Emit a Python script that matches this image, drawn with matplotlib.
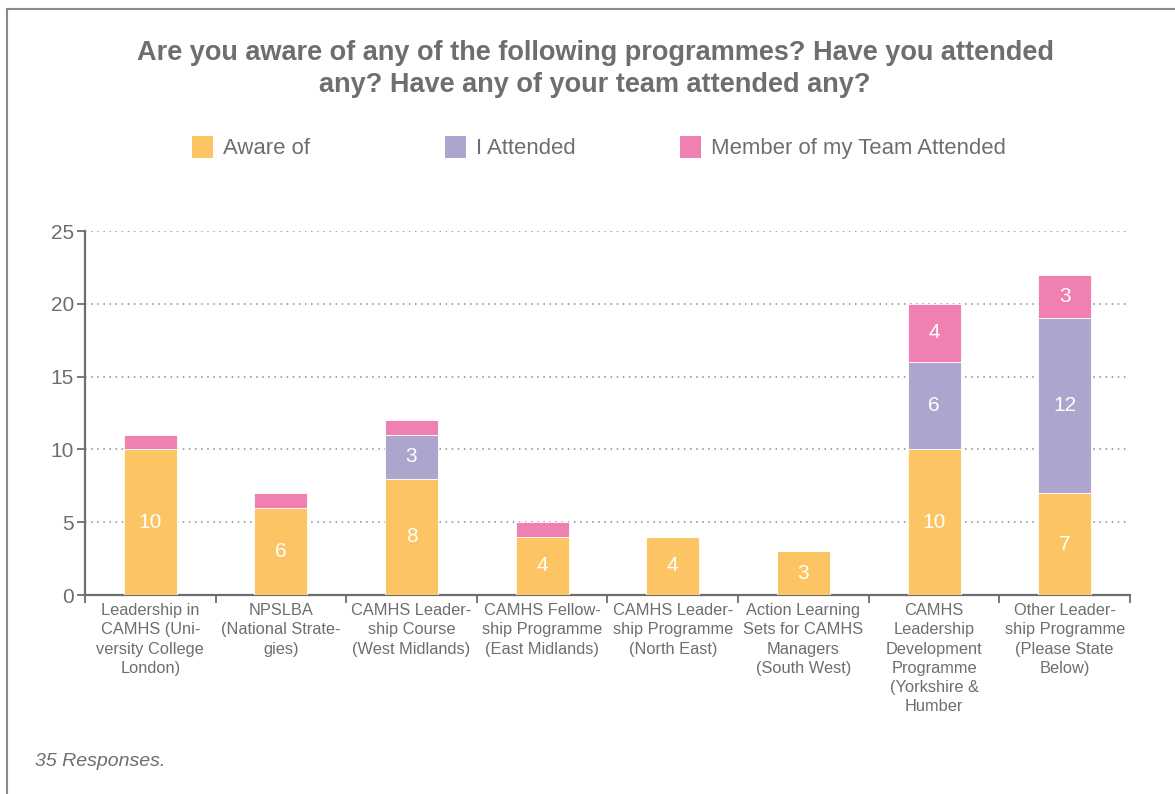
import numpy as np
import matplotlib.pyplot as plt
from matplotlib.lines import Line2D
from matplotlib.patches import Rectangle

# categories (x tick labels, already hyphen-wrapped as in the source)
categories = [
    "Leadership in\nCAMHS (Uni-\nversity College\nLondon)",
    "NPSLBA\n(National Strate-\ngies)",
    "CAMHS Leader-\nship Course\n(West Midlands)",
    "CAMHS Fellow-\nship Programme\n(East Midlands)",
    "CAMHS Leader-\nship Programme\n(North East)",
    "Action Learning\nSets for CAMHS\nManagers\n(South West)",
    "CAMHS\nLeadership\nDevelopment\nProgramme\n(Yorkshire &\nHumber",
    "Other Leader-\nship Programme\n(Please State\nBelow)",
]
aware_of = [10, 6, 8, 4, 4, 3, 10, 7]
i_attended = [0, 0, 3, 0, 0, 0, 6, 12]
team_attended = [1, 1, 1, 1, 0, 0, 4, 3]

series_names = ["Aware of", "I Attended", "Member of my Team Attended"]
colors = ["#FDC463", "#ADA5CE", "#F080B1"]
y_ticks = [0, 5, 10, 15, 20, 25]

GRAY = "#6D6E71"
plt.rcParams['font.family'] = ['Liberation Sans', 'DejaVu Sans']

fig = plt.figure(figsize=(11.75, 7.94), dpi=100)
ax = fig.add_axes([0.0723, 0.2506, 0.8894, 0.4584])

x = np.arange(len(categories))
bottom = np.zeros(len(categories))
for vals, color in zip([aware_of, i_attended, team_attended], colors):
    vals = np.array(vals, dtype=float)
    bars = ax.bar(x, vals, width=0.405, bottom=bottom, color=color,
                  edgecolor="white", linewidth=0.6, zorder=3)
    for rect, v, b in zip(bars, vals, bottom):
        if v > 1:
            ax.text(rect.get_x() + rect.get_width() / 2, b + v / 2,
                    "%d" % v, ha="center", va="center", color="white",
                    fontsize=15, zorder=4)
    bottom += vals

ax.set_xlim(-0.5, len(categories) - 0.5)
ax.set_ylim(0, 25)
ax.set_yticks(y_ticks)
ax.set_yticklabels([str(t) for t in y_ticks], fontsize=15, color=GRAY)
ax.yaxis.grid(True, linestyle=(0, (1, 3)), color="#8a8a8a", linewidth=1.1, zorder=0)
ax.tick_params(axis="y", length=6, width=1.3, color=GRAY, pad=2)

# category labels centred, ticks at boundaries
ax.set_xticks(np.arange(-0.5, len(categories), 1.0))
ax.set_xticklabels([])
ax.set_xticks(x, minor=True)
ax.set_xticklabels(categories, minor=True, fontsize=11.8, color=GRAY,
                   linespacing=1.34, va="top")
ax.tick_params(axis="x", which="minor", length=0, pad=6)
ax.tick_params(axis="x", which="major", length=6, width=1.3, color=GRAY)

for side in ["top", "right"]:
    ax.spines[side].set_visible(False)
for side in ["left", "bottom"]:
    ax.spines[side].set_color(GRAY)
    ax.spines[side].set_linewidth(1.6)

# title
fig.text(0.5065, 1 - 69 / 794, "Are you aware of any of the following programmes? Have you attended\nany? Have any of your team attended any?",
         ha="center", va="center", fontsize=19.5, fontweight="bold", color=GRAY,
         linespacing=1.3)

# legend
leg_x = [192, 445, 680]
leg_y = 147
for name, color, lx in zip(series_names, colors, leg_x):
    fig.patches.append(Rectangle(((lx) / 1175, 1 - (leg_y + 10.5) / 794),
                                 21 / 1175, 21 / 794, transform=fig.transFigure,
                                 facecolor=color, edgecolor="none"))
    fig.text((lx + 31) / 1175, 1 - (leg_y + 1.5) / 794, name, ha="left", va="center",
             fontsize=15.9, color=GRAY)

# footnote
fig.text(35 / 1175, 1 - 761 / 794, "35 Responses.", ha="left", va="center",
         fontsize=14, style="italic", color=GRAY)

# frame lines (top and left)
fig.add_artist(Line2D([7 / 1175, 1.0], [1 - 9 / 794, 1 - 9 / 794],
                      transform=fig.transFigure, color="#8a8a8a", linewidth=1.5))
fig.add_artist(Line2D([7 / 1175, 7 / 1175], [0, 1 - 9 / 794],
                      transform=fig.transFigure, color="#8a8a8a", linewidth=1.5))

fig.savefig("out.png", dpi=100, facecolor="white")
